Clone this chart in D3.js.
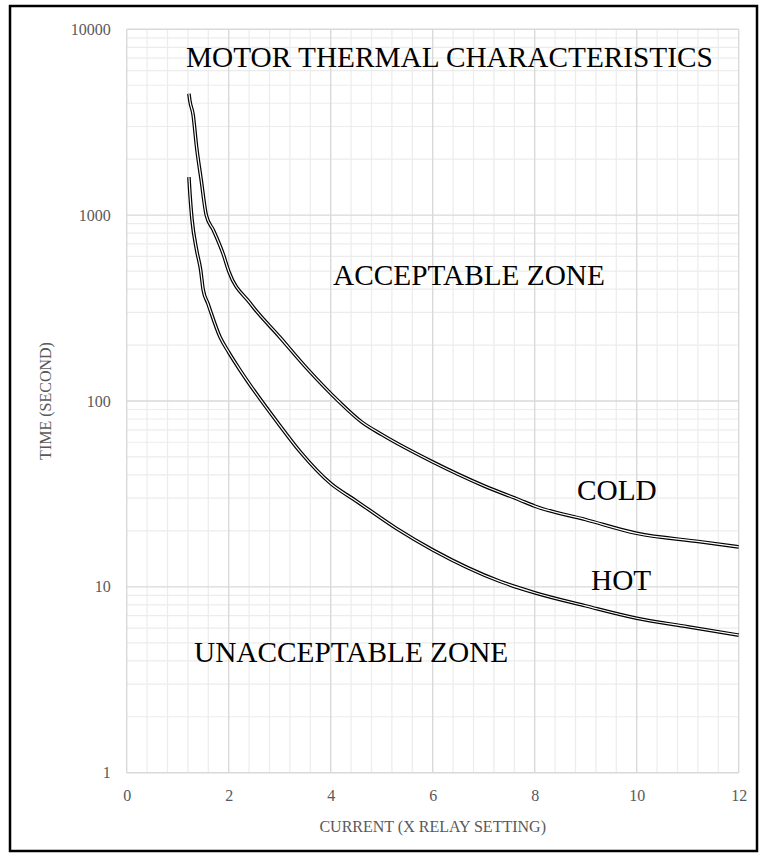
<!DOCTYPE html>
<html>
<head>
<meta charset="utf-8">
<script src="https://cdn.jsdelivr.net/npm/d3@7/dist/d3.min.js"></script>
<style>
  html, body { margin: 0; padding: 0; background: #fff; }
  svg { display: block; font-family: "Liberation Serif", "Times New Roman", serif; }
</style>
</head>
<body>
<svg id="chart" width="761" height="855"></svg>
<script>
// motor thermal curves
const coldX = [1.22, 1.24, 1.30, 1.37, 1.46, 1.56, 1.70, 1.89, 2.0, 2.42, 3.0, 3.56, 4.15, 4.61, 5.0, 6.0, 7.0, 7.71, 8.0, 9.0, 10.0, 11.24, 12.0];
const coldT = [4500, 4100, 3500, 2330, 1550, 1000, 830, 620, 500, 336, 221, 147, 100, 77, 66, 47, 35, 29.3, 27.2, 23, 19.4, 17.5, 16.4];
const hotX  = [1.22, 1.24, 1.28, 1.37, 1.45, 1.50, 1.59, 1.83, 2.0, 2.22, 3.0, 3.4, 4.0, 4.5, 5.29, 6.0, 7.32, 8.0, 9.0, 10.0, 11.0, 12.0];
const hotT  = [1600, 1300, 950, 650, 507, 396, 336, 221, 183, 147, 74, 53.4, 36, 29, 20.6, 15.8, 10.7, 9.3, 7.9, 6.78, 6.1, 5.5];

const xTicks = [0, 2, 4, 6, 8, 10, 12];
const yTicks = [1, 10, 100, 1000, 10000];

const labels = [
  {text: 'MOTOR THERMAL CHARACTERISTICS', x: 186, y: 67},
  {text: 'ACCEPTABLE ZONE', x: 333, y: 285},
  {text: 'COLD', x: 577, y: 500},
  {text: 'HOT', x: 591, y: 590},
  {text: 'UNACCEPTABLE ZONE', x: 194, y: 662}
];

const svg = d3.select('#chart');
const margin = {left: 126.7, top: 29.3, right: 761 - 738.7, bottom: 855 - 772.7};
const width = 761 - margin.left - margin.right;
const height = 855 - margin.top - margin.bottom;

// outer chart border
svg.append('rect')
  .attr('x', 10).attr('y', 6).attr('width', 747).attr('height', 845)
  .attr('fill', 'none').attr('stroke', '#000').attr('stroke-width', 2.5);

const g = svg.append('g').attr('transform', `translate(${margin.left},${margin.top})`);

const x = d3.scaleLinear().domain([0, 12]).range([0, width]);
const y = d3.scaleLog().domain([1, 10000]).range([height, 0]);

// minor grid
const xMinor = d3.range(0, 12.001, 0.4).filter(v => Math.abs(v / 2 - Math.round(v / 2)) > 1e-6);
const yMinor = y.ticks().filter(v => !yTicks.includes(v));

g.append('g').selectAll('line').data(xMinor).join('line')
  .attr('x1', d => x(d)).attr('x2', d => x(d)).attr('y1', 0).attr('y2', height)
  .attr('stroke', '#ececec').attr('stroke-width', 1.2);
g.append('g').selectAll('line').data(yMinor).join('line')
  .attr('x1', 0).attr('x2', width).attr('y1', d => y(d)).attr('y2', d => y(d))
  .attr('stroke', '#ececec').attr('stroke-width', 1.2);

// major grid
g.append('g').selectAll('line').data(xTicks).join('line')
  .attr('x1', d => x(d)).attr('x2', d => x(d)).attr('y1', 0).attr('y2', height)
  .attr('stroke', '#d9d9d9').attr('stroke-width', 1.4);
g.append('g').selectAll('line').data(yTicks).join('line')
  .attr('x1', 0).attr('x2', width).attr('y1', d => y(d)).attr('y2', d => y(d))
  .attr('stroke', '#d9d9d9').attr('stroke-width', 1.4);

// axes (labels only)
const xAxis = g.append('g').attr('transform', `translate(0,${height})`)
  .call(d3.axisBottom(x).tickValues(xTicks).tickSize(0).tickPadding(17).tickFormat(d3.format('d')));
const yAxis = g.append('g')
  .call(d3.axisLeft(y).tickValues(yTicks).tickSize(0).tickPadding(16).tickFormat(d3.format('d')));
[xAxis, yAxis].forEach(a => {
  a.select('.domain').remove();
  a.selectAll('text').attr('fill', '#595959').style('font-size', '16px')
    .style('font-family', '"Liberation Serif", "Times New Roman", serif');
});

// axis titles
svg.append('text')
  .attr('x', margin.left + width / 2).attr('y', 832)
  .attr('text-anchor', 'middle').attr('fill', '#595959').style('font-size', '16px')
  .text('CURRENT (X RELAY SETTING)');
svg.append('text')
  .attr('transform', `translate(51,${margin.top + height / 2}) rotate(-90)`)
  .attr('text-anchor', 'middle').attr('fill', '#595959').style('font-size', '16px')
  .text('TIME (SECOND)');

// double-line curves
const line = d3.line().x(d => x(d[0])).y(d => y(d[1])).curve(d3.curveMonotoneX);
const series = [d3.zip(coldX, coldT), d3.zip(hotX, hotT)];
series.forEach(s => {
  g.append('path').attr('d', line(s)).attr('fill', 'none')
    .attr('stroke', '#000').attr('stroke-width', 3.6).attr('stroke-linejoin', 'round');
  g.append('path').attr('d', line(s)).attr('fill', 'none')
    .attr('stroke', '#fff').attr('stroke-width', 1.2).attr('stroke-linejoin', 'round');
});

// zone labels
svg.append('g').selectAll('text').data(labels).join('text')
  .attr('x', d => d.x).attr('y', d => d.y)
  .attr('fill', '#000').style('font-size', '29.3px')
  .text(d => d.text);
</script>
</body>
</html>
